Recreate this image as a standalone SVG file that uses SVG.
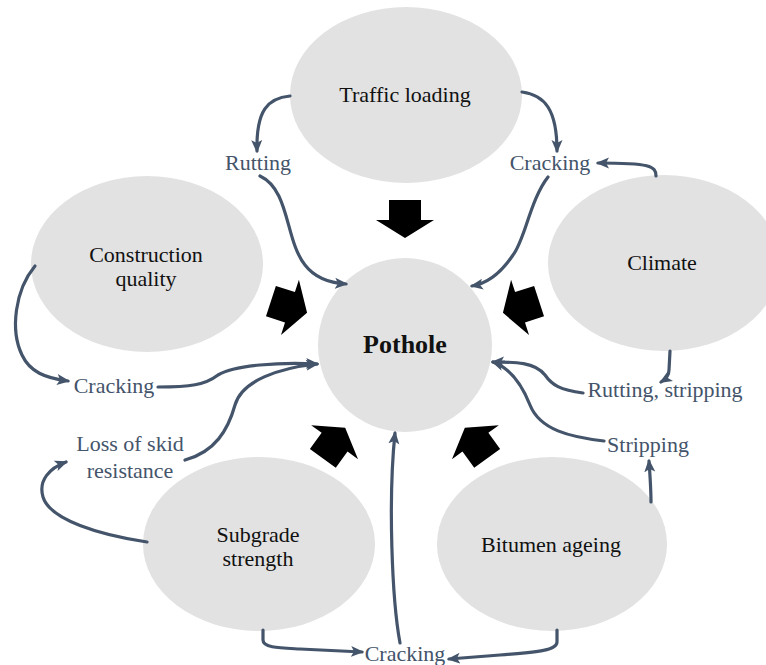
<svg xmlns="http://www.w3.org/2000/svg" xmlns:xlink="http://www.w3.org/1999/xlink" width="766" height="665" viewBox="0 0 766 665">
  <style>
    .bubble { fill: #e2e2e2; }
    .node-text { font-family: 'Liberation Serif', 'Times New Roman', Times, serif; font-size: 22px; fill: #111; text-anchor: middle; }
    .core-text { font-family: 'Liberation Serif', 'Times New Roman', Times, serif; font-size: 26px; font-weight: bold; fill: #111; text-anchor: middle; }
    .effect { font-family: 'Liberation Serif', 'Times New Roman', Times, serif; font-size: 22px; fill: #44546a; text-anchor: middle; }
    .link { fill: none; stroke: #44546a; stroke-width: 3.2; stroke-linecap: round; marker-end: url(#head); }
    .block { fill: #000; }
  </style>
  <defs>
    <marker id="head" markerUnits="userSpaceOnUse" markerWidth="13" markerHeight="12" viewBox="0 0 13 12" refX="11" refY="6" orient="auto">
      <path d="M0,0.5 L13,6 L0,11.5 L3,6 Z" fill="#44546a"/>
    </marker>
    <!-- block arrow pointing along +x, centred on the origin -->
    <polygon id="blk" class="block" points="-19,-16 1,-16 1,-29 19,0 1,29 1,16 -19,16"/>
  </defs>

  <!-- factor nodes -->
  <g id="traffic" font-family="Liberation Serif, serif">
    <ellipse class="bubble" cx="406" cy="95" rx="116" ry="88"/>
    <text class="node-text" x="405" y="102">Traffic loading</text>
  </g>
  <g id="construction" font-family="Liberation Serif, serif">
    <ellipse class="bubble" cx="147" cy="264" rx="116" ry="88"/>
    <text class="node-text" x="146" y="262">Construction</text>
    <text class="node-text" x="146" y="286">quality</text>
  </g>
  <g id="climate" font-family="Liberation Serif, serif">
    <ellipse class="bubble" cx="664" cy="263" rx="116" ry="88"/>
    <text class="node-text" x="662" y="270">Climate</text>
  </g>
  <g id="subgrade" font-family="Liberation Serif, serif">
    <ellipse class="bubble" cx="259" cy="544" rx="116" ry="87"/>
    <text class="node-text" x="258" y="542">Subgrade</text>
    <text class="node-text" x="258" y="566">strength</text>
  </g>
  <g id="bitumen" font-family="Liberation Serif, serif">
    <ellipse class="bubble" cx="552" cy="544" rx="115" ry="87"/>
    <text class="node-text" x="551" y="552">Bitumen ageing</text>
  </g>
  <g id="pothole" font-family="Liberation Serif, serif">
    <circle class="bubble" cx="405" cy="345" r="87"/>
    <text class="core-text" x="405" y="353">Pothole</text>
  </g>

  <!-- block arrows pointing at the central node -->
  <g id="block-arrows">
    <use xlink:href="#blk" href="#blk" transform="translate(405,219) rotate(90)"/>
    <use xlink:href="#blk" href="#blk" transform="translate(289,307) rotate(18)"/>
    <use xlink:href="#blk" href="#blk" transform="translate(521,307) rotate(162)"/>
    <use xlink:href="#blk" href="#blk" transform="translate(334,443) rotate(-54)"/>
    <use xlink:href="#blk" href="#blk" transform="translate(476,443) rotate(-126)"/>
  </g>

  <!-- defect labels -->
  <g id="effects" font-family="Liberation Serif, serif">
    <text class="effect" x="258" y="170">Rutting</text>
    <text class="effect" x="550" y="170">Cracking</text>
    <text class="effect" x="114" y="393">Cracking</text>
    <text class="effect" x="130" y="451">Loss of skid</text>
    <text class="effect" x="130" y="478">resistance</text>
    <text class="effect" x="665" y="397">Rutting, stripping</text>
    <text class="effect" x="648" y="452">Stripping</text>
    <text class="effect" x="405" y="661">Cracking</text>
  </g>

  <!-- connectors -->
  <g id="connectors">
    <path class="link" d="M290,96 C268,98 256,110 257,151"/>
    <path class="link" d="M260,176 C290,190 285,240 305,265 C315,278 330,283 346,284"/>
    <path class="link" d="M522,92 C545,95 557,110 557,151"/>
    <path class="link" d="M656,176 C656,166 650,163 598,163"/>
    <path class="link" d="M548,177 C530,200 525,240 513,255 C503,270 490,283 472,286"/>
    <path class="link" d="M35,266 C15,290 10,330 22,355 C30,372 45,378 68,381"/>
    <path class="link" d="M158,387 C190,387 205,385 218,375 C235,365 280,362 317,364"/>
    <path class="link" d="M185,460 C215,452 228,430 235,405 C242,380 280,368 317,364"/>
    <path class="link" d="M147,542 C100,535 50,520 43,497 C38,480 50,468 66,462"/>
    <path class="link" d="M263,630 L263,640 C263,648 280,648 300,649 L362,652"/>
    <path class="link" d="M400,643 C392,600 388,500 395,433"/>
    <path class="link" d="M557,630 L557,642 C557,650 540,652 500,655 L449,659"/>
    <path class="link" d="M651,502 C651,490 650,475 649,461"/>
    <path class="link" d="M604,441 C570,437 540,430 530,405 C522,385 510,368 493,362"/>
    <path class="link" d="M670,351 L669,370 C669,376 666,379 661,382"/>
    <path class="link" d="M583,393 C560,390 552,385 545,375 C535,362 515,362 493,362"/>
  </g>
</svg>
